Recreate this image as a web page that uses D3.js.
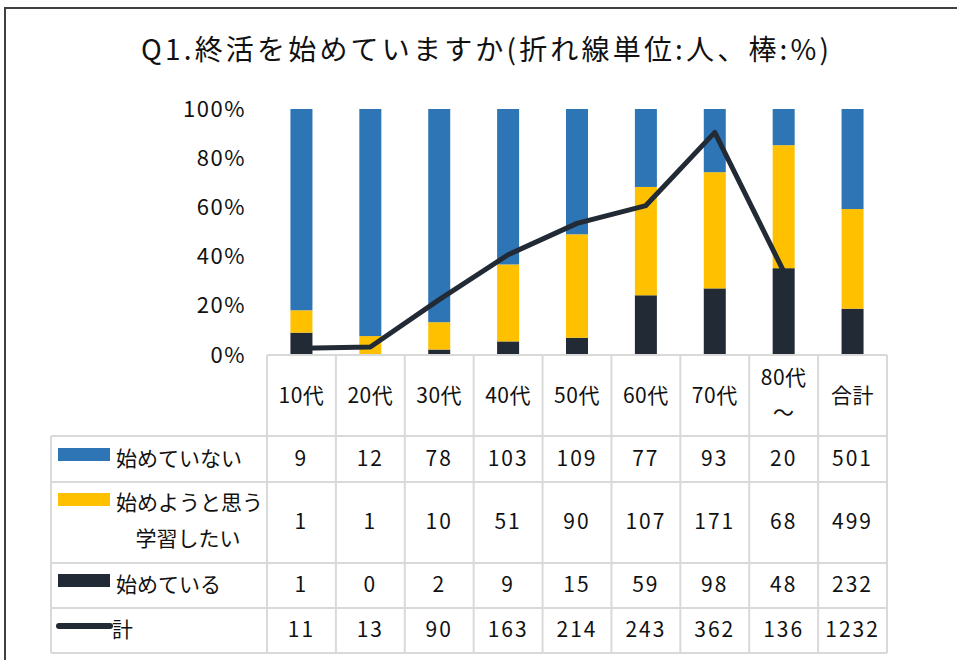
<!DOCTYPE html>
<html lang="ja">
<head>
  <meta charset="utf-8">
  <title>Q1. 終活を始めていますか</title>
  <script src="https://d3js.org/d3.v7.min.js"></script>
  <style>
    body { margin: 0; background: #fff; }
    svg { display: block; font-family: "Noto Sans CJK JP", sans-serif; }
    .grid line { stroke: #d9d9d9; stroke-width: 2; }
    .txt { fill: #111; }
  </style>
</head>
<body>
<svg id="chart" width="957" height="660"></svg>
<script>
  // data
  const categories = ["10代", "20代", "30代", "40代", "50代", "60代", "70代", "80代～", "合計"];
  const notStarted = [9, 12, 78, 103, 109, 77, 93, 20, 501];     // 始めていない
  const planning   = [1, 1, 10, 51, 90, 107, 171, 68, 499];      // 始めようと思う 学習したい
  const started    = [1, 0, 2, 9, 15, 59, 98, 48, 232];          // 始めている
  const total      = [11, 13, 90, 163, 214, 243, 362, 136, 1232]; // 計
  const pctTicks = [0, 0.2, 0.4, 0.6, 0.8, 1];

  const svg = d3.select("#chart");

  // outer frame
  svg.append("rect")
    .attr("x", 5).attr("y", 8)
    .attr("width", 1000).attr("height", 700)
    .attr("fill", "none").attr("stroke", "#404040").attr("stroke-width", 2);

  // title
  svg.append("text")
    .attr("class", "txt")
    .attr("x", 485).attr("y", 60)
    .attr("text-anchor", "middle")
    .attr("font-size", 28)
    .attr("textLength", 688)
    .attr("lengthAdjust", "spacing")
    .text("Q1.終活を始めていますか(折れ線単位:人、棒:%)");

  // scales
  const x = d3.scaleBand().domain(categories).range([267, 887]);
  const barW = 22;
  const cx = c => x(c) + x.bandwidth() / 2;
  const yPct = d3.scaleLinear().domain([0, 1]).range([355, 109]);
  const yCount = d3.scaleLinear().domain([0, 400]).range([355, 109]);

  // y axis (percent)
  const yAxis = svg.append("g")
    .attr("transform", "translate(246,0)")
    .call(d3.axisLeft(yPct).tickValues(pctTicks).tickFormat(d3.format(".0%")).tickSize(0).tickPadding(0));
  yAxis.select(".domain").remove();
  yAxis.selectAll("text")
    .attr("font-size", 22)
    .attr("font-family", "\"Noto Sans CJK JP\", sans-serif")
    .attr("fill", "#111")
    .attr("letter-spacing", 1.5);

  // stacked 100% bars
  const rows = categories.map((c, i) => ({ cat: c, started: started[i], planning: planning[i], notStarted: notStarted[i] }));
  const keys = ["started", "planning", "notStarted"];
  const colors = { started: "#222a35", planning: "#ffc000", notStarted: "#2e75b6" };
  const stack = d3.stack().keys(keys).offset(d3.stackOffsetExpand)(rows);

  svg.append("g").selectAll("g")
    .data(stack).enter().append("g")
    .attr("fill", d => colors[d.key])
    .selectAll("rect")
    .data(d => d).enter().append("rect")
    .attr("x", d => cx(d.data.cat) - barW / 2)
    .attr("width", barW)
    .attr("y", d => yPct(d[1]))
    .attr("height", d => yPct(d[0]) - yPct(d[1]));

  // total line (secondary hidden axis, categories without 合計)
  const lineCats = categories.slice(0, 8);
  const line = d3.line()
    .x(d => cx(d.cat))
    .y(d => yCount(d.v));
  svg.append("path")
    .datum(lineCats.map((c, i) => ({ cat: c, v: total[i] })))
    .attr("d", line)
    .attr("fill", "none")
    .attr("stroke", "#222a35")
    .attr("stroke-width", 5)
    .attr("stroke-linejoin", "round");

  // data table
  const rowY = [355, 436, 482, 563, 608, 653];
  const tableLeft = 51, tableRight = 887;
  const grid = svg.append("g").attr("class", "grid");

  // horizontal lines
  grid.append("line").attr("x1", 267).attr("x2", tableRight).attr("y1", rowY[0]).attr("y2", rowY[0]);
  rowY.slice(1).forEach(y => {
    grid.append("line").attr("x1", tableLeft).attr("x2", tableRight).attr("y1", y).attr("y2", y);
  });
  // vertical lines
  grid.append("line").attr("x1", tableLeft).attr("x2", tableLeft).attr("y1", rowY[1]).attr("y2", rowY[5]);
  categories.forEach(c => {
    grid.append("line").attr("x1", x(c)).attr("x2", x(c)).attr("y1", rowY[0]).attr("y2", rowY[5]);
  });
  grid.append("line").attr("x1", tableRight).attr("x2", tableRight).attr("y1", rowY[0]).attr("y2", rowY[5]);

  const fs = 21;
  // header row
  categories.forEach(c => {
    const t = svg.append("text").attr("class", "txt")
      .attr("text-anchor", "middle").attr("font-size", fs).attr("letter-spacing", 0.5);
    if (c === "80代～") {
      t.append("tspan").attr("x", cx(c)).attr("y", 385).text("80代");
      t.append("tspan").attr("x", cx(c)).attr("y", 420).text("～");
    } else {
      t.attr("x", cx(c)).attr("y", 403).text(c);
    }
  });

  // value rows
  const series = [notStarted, planning, started, total];
  const valueY = [466, 529, 592, 637];
  series.forEach((vals, r) => {
    svg.append("g").selectAll("text")
      .data(vals).enter().append("text")
      .attr("class", "txt")
      .attr("x", (d, i) => cx(categories[i]))
      .attr("y", valueY[r])
      .attr("text-anchor", "middle")
      .attr("font-size", fs)
      .attr("letter-spacing", 2)
      .text(d => d);
  });

  // legend column
  const legend = svg.append("g");
  legend.append("rect").attr("x", 58).attr("y", 448).attr("width", 52).attr("height", 13).attr("fill", colors.notStarted);
  legend.append("text").attr("class", "txt").attr("x", 116).attr("y", 466).attr("font-size", fs).text("始めていない");

  legend.append("rect").attr("x", 58).attr("y", 493).attr("width", 52).attr("height", 13).attr("fill", colors.planning);
  legend.append("text").attr("class", "txt").attr("x", 116).attr("y", 510).attr("font-size", fs).text("始めようと思う");
  legend.append("text").attr("class", "txt").attr("x", 188).attr("y", 546).attr("text-anchor", "middle").attr("font-size", fs).text("学習したい");

  legend.append("rect").attr("x", 58).attr("y", 574).attr("width", 52).attr("height", 13).attr("fill", colors.started);
  legend.append("text").attr("class", "txt").attr("x", 116).attr("y", 592).attr("font-size", fs).text("始めている");

  legend.append("line").attr("x1", 59).attr("x2", 110).attr("y1", 626).attr("y2", 626)
    .attr("stroke", "#222a35").attr("stroke-width", 6).attr("stroke-linecap", "round");
  legend.append("text").attr("class", "txt").attr("x", 112).attr("y", 637).attr("font-size", fs).text("計");
</script>
</body>
</html>
